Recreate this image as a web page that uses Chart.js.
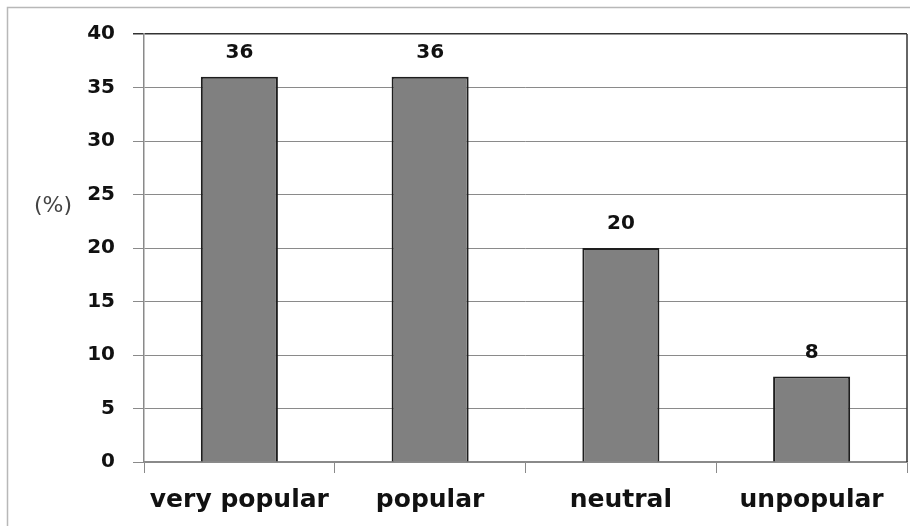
<!DOCTYPE html>
<html>
<head>
<meta charset="utf-8">
<script src="https://cdn.jsdelivr.net/npm/chart.js@4/dist/chart.umd.min.js"></script>
<style>
  html, body { margin: 0; padding: 0; background: #fff; }
  #wrap { width: 910px; height: 526px; position: relative; }
</style>
</head>
<body>
<div id="wrap"><canvas id="c" width="910" height="526"></canvas></div>
<script>
// Survey responses (share of respondents, %)
const categories = ['very popular', 'popular', 'neutral', 'unpopular'];
const shares = [36, 36, 20, 8];
const yTicks = [0, 5, 10, 15, 20, 25, 30, 35, 40];
const unitLabel = '(%)';

const FONT = '"DejaVu Sans", Verdana, sans-serif';

// Frame around the whole figure, the right plot border, value labels and unit label
const decorations = {
  id: 'decorations',
  beforeDraw(chart) {
    const ctx = chart.ctx;
    ctx.save();
    ctx.fillStyle = '#fff';
    ctx.fillRect(0, 0, chart.width, chart.height);
    ctx.strokeStyle = '#b8b8b8';
    ctx.lineWidth = 1.5;
    ctx.strokeRect(7.5, 7.5, chart.width + 20, chart.height + 20);
    ctx.restore();
  },
  afterDraw(chart) {
    const ctx = chart.ctx;
    const area = chart.chartArea;
    ctx.save();
    // right border of the plot
    ctx.strokeStyle = '#333';
    ctx.lineWidth = 1.5;
    ctx.beginPath();
    ctx.moveTo(area.right, area.top);
    ctx.lineTo(area.right, area.bottom);
    ctx.stroke();

    // value labels above bars
    const meta = chart.getDatasetMeta(0);
    ctx.fillStyle = '#111';
    ctx.font = 'bold 20px ' + FONT;
    ctx.textAlign = 'center';
    ctx.textBaseline = 'middle';
    meta.data.forEach((bar, i) => {
      ctx.fillText(String(shares[i]), bar.x, bar.y - 24);
    });

    // unit label beside the value axis
    ctx.fillStyle = '#444';
    ctx.font = '22px ' + FONT;
    ctx.fillText(unitLabel, 53, chart.scales.y.getPixelForValue(23.9));
    ctx.restore();
  }
};

new Chart(document.getElementById('c'), {
  type: 'bar',
  data: {
    labels: categories,
    datasets: [{
      data: shares,
      backgroundColor: '#808080',
      borderColor: '#1e1e1e',
      borderWidth: 2,
      categoryPercentage: 1,
      barPercentage: 0.404
    }]
  },
  options: {
    responsive: false,
    animation: false,
    devicePixelRatio: 1,
    layout: { padding: { top: 34, right: 3, left: 0, bottom: 0 } },
    plugins: { legend: { display: false }, tooltip: { enabled: false } },
    scales: {
      x: {
        grid: {
          offset: true,
          drawOnChartArea: false,
          drawTicks: true,
          tickLength: 11,
          color: '#8a8a8a',
          lineWidth: 1
        },
        border: { color: '#8a8a8a', width: 1.5 },
        ticks: {
          color: '#111',
          font: { family: FONT, size: 25, weight: 'bold' },
          padding: 12,
          maxRotation: 0,
          autoSkip: false
        },
        afterFit(scale) { scale.height = 64; }
      },
      y: {
        min: 0,
        max: 40,
        afterBuildTicks(scale) { scale.ticks = yTicks.map(v => ({ value: v })); },
        grid: {
          tickLength: 11,
          color: ctx => (ctx.tick && ctx.tick.value === 40 ? '#333' : '#8a8a8a'),
          lineWidth: ctx => (ctx.tick && ctx.tick.value === 40 ? 1.5 : 1)
        },
        border: { color: '#8a8a8a', width: 1.5 },
        ticks: {
          color: '#111',
          font: { family: FONT, size: 20, weight: 'bold' },
          padding: 18
        },
        afterFit(scale) { scale.width = 144; }
      }
    }
  },
  plugins: [decorations]
});
</script>
</body>
</html>
